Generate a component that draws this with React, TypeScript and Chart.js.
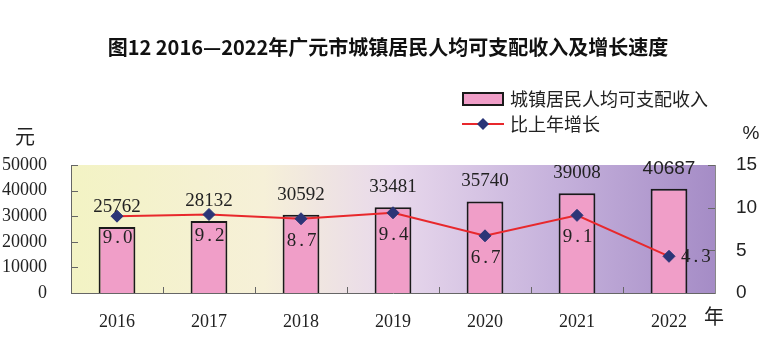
import React, { useEffect, useRef } from "react";
import { Chart, registerables } from "chart.js";

Chart.register(...registerables);

const years = ["2016", "2017", "2018", "2019", "2020", "2021", "2022"];
const income = [25762, 28132, 30592, 33481, 35740, 39008, 40687];
const growth = [9.0, 9.2, 8.7, 9.4, 6.7, 9.1, 4.3];
const incomeAxis = { min: 0, max: 50000, step: 10000 };
const growthAxis = { min: 0, max: 15, step: 5 };

const titleText = "图12 2016—2022年广元市城镇居民人均可支配收入及增长速度";
const barLegend = "城镇居民人均可支配收入";
const lineLegend = "比上年增长";
const leftUnit = "元";
const rightUnit = "%";
const xUnit = "年";

const BAR_FILL = "#f09ec8";
const BAR_BORDER = "#1a1a1a";
const LINE_COLOR = "#e8282c";
const POINT_COLOR = "#2b3577";
const TEXT = "#222222";
const CJK = '"Noto Sans CJK SC", sans-serif';
const SERIF = '"Liberation Serif", serif';
const SANS = '"Liberation Sans", Arial, sans-serif';

function diamond(ctx: CanvasRenderingContext2D, x: number, y: number, r: number) {
  ctx.beginPath();
  ctx.moveTo(x, y - r);
  ctx.lineTo(x + r, y);
  ctx.lineTo(x, y + r);
  ctx.lineTo(x - r, y);
  ctx.closePath();
  ctx.fill();
}

const decorPlugin = {
  id: "decor",
  beforeDraw(chart: any) {
    const { ctx, chartArea } = chart;
    const { left, right, top, bottom } = chartArea;
    const g = ctx.createLinearGradient(left, 0, right, 0);
    g.addColorStop(0, "#f3f3c4");
    g.addColorStop(0.3, "#f6f0d8");
    g.addColorStop(0.5, "#e8d8ec");
    g.addColorStop(0.75, "#c6b2dc");
    g.addColorStop(1, "#a58cc6");
    ctx.save();
    ctx.fillStyle = g;
    ctx.fillRect(left, top, right - left, bottom - top);
    ctx.restore();
  },
  afterDraw(chart: any) {
    const { ctx, chartArea, scales } = chart;
    const { left, right, bottom } = chartArea;
    ctx.save();
    ctx.strokeStyle = "#666";
    ctx.lineWidth = 1;
    ctx.beginPath();
    for (let v = incomeAxis.min + incomeAxis.step; v <= incomeAxis.max; v += incomeAxis.step) {
      const y = Math.round(scales.y.getPixelForValue(v)) + 0.5;
      ctx.moveTo(left, y);
      ctx.lineTo(left + 7, y);
    }
    for (let v = growthAxis.min + growthAxis.step; v <= growthAxis.max; v += growthAxis.step) {
      const y = Math.round(scales.y1.getPixelForValue(v)) + 0.5;
      ctx.moveTo(right - 7, y);
      ctx.lineTo(right, y);
    }
    const cw = (right - left) / years.length;
    for (let i = 1; i < years.length; i++) {
      const x = Math.round(left + cw * i) + 0.5;
      ctx.moveTo(x, bottom);
      ctx.lineTo(x, bottom - 6);
    }
    ctx.stroke();

    ctx.fillStyle = "#111";
    ctx.font = `bold 20px ${CJK}`;
    ctx.textAlign = "center";
    ctx.textBaseline = "middle";
    ctx.fillText(titleText, 388, 47);

    ctx.fillStyle = BAR_FILL;
    ctx.fillRect(463, 93, 40, 12);
    ctx.strokeStyle = BAR_BORDER;
    ctx.lineWidth = 2;
    ctx.strokeRect(463, 93, 40, 12);
    ctx.strokeStyle = LINE_COLOR;
    ctx.beginPath();
    ctx.moveTo(462, 124);
    ctx.lineTo(504, 124);
    ctx.stroke();
    ctx.fillStyle = POINT_COLOR;
    diamond(ctx, 483, 124, 6);
    ctx.fillStyle = TEXT;
    ctx.font = `18px ${CJK}`;
    ctx.textAlign = "left";
    ctx.fillText(barLegend, 510, 99);
    ctx.fillText(lineLegend, 510, 124);

    ctx.textAlign = "center";
    ctx.font = `20px ${CJK}`;
    ctx.fillText(leftUnit, 25, 136);
    ctx.fillText(xUnit, 714, 316);
    ctx.font = `19px ${SANS}`;
    ctx.fillText(rightUnit, 751, 134);

    const barMeta = chart.getDatasetMeta(1);
    barMeta.data.forEach((el: any, i: number) => {
      const last = i === income.length - 1;
      ctx.font = last ? `19px ${SANS}` : `19px ${SERIF}`;
      ctx.fillStyle = TEXT;
      ctx.textAlign = "center";
      ctx.fillText(String(income[i]), el.x, el.y - 20);
    });
    const lineMeta = chart.getDatasetMeta(0);
    lineMeta.data.forEach((el: any, i: number) => {
      const last = i === growth.length - 1;
      ctx.font = `19px ${SERIF}`;
      (ctx as any).letterSpacing = "3px";
      ctx.fillStyle = TEXT;
      if (last) {
        ctx.textAlign = "left";
        ctx.fillText(growth[i].toFixed(1), el.x + 12, el.y + 1);
      } else {
        ctx.textAlign = "center";
        ctx.fillText(growth[i].toFixed(1), el.x + 2, el.y + 22);
      }
      (ctx as any).letterSpacing = "0px";
    });
    ctx.restore();
  },
};

export default function App() {
  const ref = useRef<HTMLCanvasElement | null>(null);
  useEffect(() => {
    if (!ref.current) return;
    const chart = new Chart(ref.current, {
      type: "bar",
      data: {
        labels: years,
        datasets: [
          {
            type: "line",
            label: lineLegend,
            data: growth,
            yAxisID: "y1",
            borderColor: LINE_COLOR,
            borderWidth: 2,
            pointStyle: "rectRot",
            pointRadius: 6,
            pointBackgroundColor: POINT_COLOR,
            pointBorderColor: POINT_COLOR,
            pointBorderWidth: 1,
            tension: 0,
            order: 0,
          } as any,
          {
            type: "bar",
            label: barLegend,
            data: income,
            yAxisID: "y",
            backgroundColor: BAR_FILL,
            borderColor: BAR_BORDER,
            borderWidth: 2,
            barPercentage: 0.8,
            categoryPercentage: 0.5,
            order: 1,
          } as any,
        ],
      },
      options: {
        responsive: false,
        animation: false,
        layout: { padding: { top: 165, left: 0, right: 0, bottom: 0 } },
        plugins: {
          legend: { display: false },
          title: { display: false },
          tooltip: { enabled: false },
        },
        scales: {
          x: {
            grid: { display: false },
            border: { display: true, color: "#666", width: 1 },
            ticks: { font: { family: "Liberation Serif", size: 18 }, color: TEXT, padding: 10 },
            afterFit: (s: any) => { s.height = 60; },
          },
          y: {
            position: "left",
            min: incomeAxis.min,
            max: incomeAxis.max,
            grid: { display: false },
            border: { display: true, color: "#666", width: 1 },
            ticks: {
              stepSize: incomeAxis.step,
              font: { family: "Liberation Serif", size: 18 },
              color: TEXT,
              padding: 16,
              callback: (v: any) => String(v),
            },
            afterFit: (s: any) => { s.width = 71; },
          },
          y1: {
            position: "right",
            min: growthAxis.min,
            max: growthAxis.max,
            grid: { display: false },
            border: { display: true, color: "#888", width: 1 },
            ticks: { stepSize: growthAxis.step, font: { family: "Liberation Sans", size: 19 }, color: TEXT, padding: 13 },
            afterFit: (s: any) => { s.width = 58; },
          },
        },
      } as any,
      plugins: [decorPlugin],
    });
    return () => chart.destroy();
  }, []);
  return (
    <div style={{ position: "fixed", left: 0, top: 0, width: 773, height: 353, background: "#fff" }}>
      <canvas ref={ref} width={773} height={353} style={{ width: 773, height: 353, display: "block" }} />
    </div>
  );
}
